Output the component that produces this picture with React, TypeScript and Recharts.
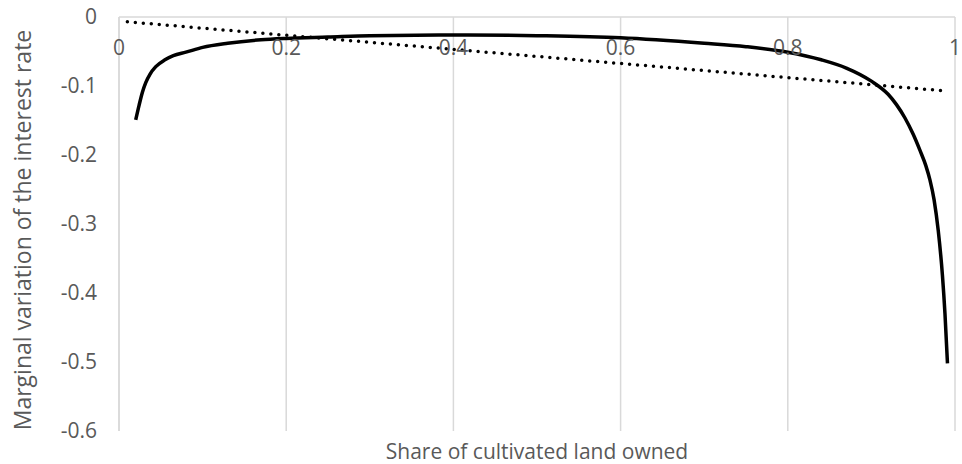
import { LineChart, Line, XAxis, YAxis, CartesianGrid, Label } from "recharts"

// solid curve: marginal variation vs share owned
const shareOwned = [
  0.02, 0.024, 0.028, 0.032, 0.037, 0.044, 0.055, 0.065, 0.08, 0.1, 0.13, 0.17, 0.2, 0.25, 0.3, 0.4, 0.5,
  0.6, 0.7, 0.75, 0.8, 0.84, 0.87, 0.9, 0.92, 0.93, 0.94, 0.95, 0.958, 0.965, 0.97, 0.975, 0.98, 0.985,
  0.988, 0.991,
]
const marginal = [
  -0.149, -0.128, -0.109, -0.095, -0.083, -0.072, -0.062, -0.056, -0.051, -0.044, -0.038, -0.033, -0.031,
  -0.029, -0.027, -0.026, -0.027, -0.03, -0.038, -0.043, -0.051, -0.062, -0.074, -0.093, -0.112, -0.127,
  -0.146, -0.17, -0.193, -0.215, -0.236, -0.265, -0.31, -0.375, -0.43, -0.502,
]

// dotted trend line
const trendX = [0.01, 0.987]
const trendY = [-0.007, -0.107]

const xTicks = [0, 0.2, 0.4, 0.6, 0.8, 1]
const yTicks = [0, -0.1, -0.2, -0.3, -0.4, -0.5, -0.6]

const curveData = shareOwned.map((x, i) => ({ x, y: marginal[i] }))
const trendData = trendX.map((x, i) => ({ x, y: trendY[i] }))

const font = "'Open Sans', sans-serif"
const grey = "#595959"

const TopTick = (props: any) => {
  const { x, payload } = props
  return (
    <text x={x} y={17 + 30} textAnchor="middle" dominantBaseline="central" fill={grey} fontSize={21} fontFamily={font}>
      {payload.value}
    </text>
  )
}

const App = () => {
  return (
    <div style={{ position: "absolute", left: 0, top: 0, width: 962, height: 464, background: "#fff" }}>
      <LineChart width={962} height={464} margin={{ top: 0, right: 7, bottom: 33, left: 0 }}>
        <CartesianGrid horizontal={false} stroke="#d9d9d9" strokeWidth={1.5} />
        <XAxis
          type="number"
          dataKey="x"
          orientation="top"
          height={17}
          domain={[0, 1]}
          ticks={xTicks}
          tickLine={false}
          axisLine={{ stroke: "#d9d9d9", strokeWidth: 1.5 }}
          tick={<TopTick />}
          allowDataOverflow
        />
        <YAxis
          type="number"
          domain={[-0.6, 0]}
          ticks={yTicks}
          width={119}
          tickLine={false}
          tickSize={0}
          tickMargin={22}
          axisLine={{ stroke: "#d9d9d9", strokeWidth: 1.5 }}
          tick={{ fill: grey, fontSize: 21, fontFamily: font }}
        >
          <Label
            value="Marginal variation of the interest rate"
            angle={-90}
            position="center"
            dx={-37}
            dy={6}
            fill={grey}
            fontSize={23}
            fontFamily={font}
          />
        </YAxis>
        <Line
          data={curveData}
          dataKey="y"
          type="monotone"
          stroke="#000"
          strokeWidth={3.5}
          dot={false}
          isAnimationActive={false}
        />
        <Line
          data={trendData}
          dataKey="y"
          type="linear"
          stroke="#000"
          strokeWidth={3.5}
          strokeDasharray="0 8"
          strokeLinecap="round"
          dot={false}
          isAnimationActive={false}
        />
      </LineChart>
      <div
        style={{
          position: "absolute",
          left: 119,
          width: 836,
          top: 437,
          textAlign: "center",
          color: grey,
          fontSize: 21,
          fontFamily: font,
        }}
      >
        Share of cultivated land owned
      </div>
    </div>
  )
}

export default App
